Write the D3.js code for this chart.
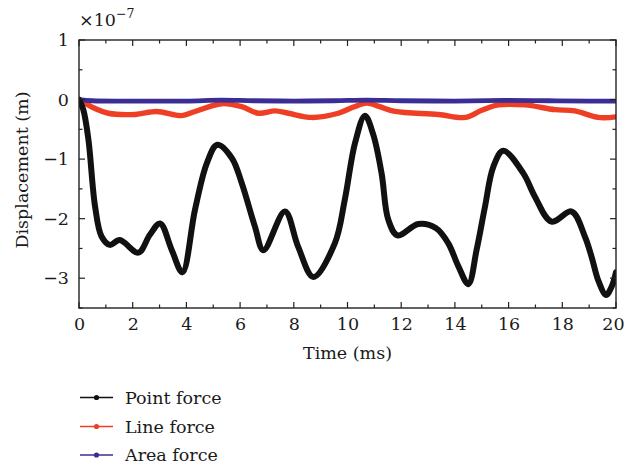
<!DOCTYPE html>
<html>
<head>
<meta charset="utf-8">
<script src="https://cdn.jsdelivr.net/npm/d3@7"></script>
<style>
  html, body { margin: 0; padding: 0; background: #fff; }
  svg { display: block; }
  text { font-family: "DejaVu Serif", "Liberation Serif", serif; fill: #1a1a1a; }
</style>
</head>
<body>
<svg id="chart" width="626" height="464"></svg>
<script>
// Time samples (ms) and displacement values (×1e-7 m) for each load case
const pointT = [0, 0.16, 0.35, 0.6, 0.84, 1.15, 1.52, 2.21, 2.64, 3.02, 3.45, 3.85, 4.32, 4.76, 5.15, 5.69, 6.06, 6.55, 6.87, 7.67, 8.16, 8.73, 9.53, 9.9, 10.28, 10.65, 10.96, 11.27, 11.52, 11.86, 12.64, 13.3, 13.75, 14.13, 14.5, 14.81, 15.12, 15.43, 15.8, 16.55, 16.98, 17.6, 18.35, 18.84, 19.09, 19.35, 19.63, 19.84, 20];
const pointV = [0, -0.17, -0.67, -1.8, -2.3, -2.44, -2.36, -2.57, -2.27, -2.08, -2.52, -2.9, -1.85, -1.07, -0.76, -0.98, -1.4, -2.13, -2.53, -1.88, -2.47, -2.98, -2.41, -1.68, -0.73, -0.27, -0.59, -1.24, -2.02, -2.28, -2.09, -2.16, -2.41, -2.8, -3.1, -2.52, -1.8, -1.13, -0.86, -1.24, -1.63, -2.05, -1.88, -2.3, -2.64, -3.05, -3.28, -3.14, -2.9];

const lineT = [0, 0.6, 1.09, 2.09, 2.89, 3.82, 4.32, 5.31, 6.06, 6.68, 7.3, 7.8, 8.67, 9.66, 10.2, 10.71, 11.2, 11.77, 13.38, 14.38, 15.0, 15.62, 16.61, 17.73, 18.47, 19.34, 20];
const lineV = [0, -0.15, -0.23, -0.25, -0.2, -0.27, -0.2, -0.07, -0.12, -0.23, -0.19, -0.23, -0.3, -0.23, -0.13, -0.06, -0.12, -0.2, -0.25, -0.3, -0.18, -0.09, -0.09, -0.17, -0.19, -0.3, -0.29];

const areaT = [0, 0.5, 2, 4, 5.3, 6.5, 8, 9.5, 10.7, 12, 14, 15.8, 17.5, 19, 20];
const areaV = [0, -0.02, -0.025, -0.025, -0.01, -0.02, -0.025, -0.02, -0.01, -0.02, -0.025, -0.015, -0.02, -0.025, -0.025];

const seriesNames = ["Point force", "Line force", "Area force"];
const seriesColors = ["#111111", "#ee3f24", "#3a2e96"];

const xTicks = [0, 2, 4, 6, 8, 10, 12, 14, 16, 18, 20];
const yTicks = [1, 0, -1, -2, -3];

const svg = d3.select("#chart");
const mLeft = 79, mRight = 616, mTop = 40, mBottom = 308;
const fontSize = 17.5;

const x = d3.scaleLinear().domain([0, 20]).range([mLeft, mRight]);
const y = d3.scaleLinear().domain([-3.5, 1]).range([mBottom, mTop]);

const series = [
  { t: pointT, v: pointV, w: 6 },
  { t: lineT, v: lineV, w: 5.4 },
  { t: areaT, v: areaV, w: 4.8 }
];

const line = d3.line()
  .x(d => x(d[0]))
  .y(d => y(d[1]))
  .curve(d3.curveCatmullRom.alpha(0.5));

svg.append("clipPath").attr("id", "plotclip")
  .append("rect").attr("x", mLeft).attr("y", mTop - 4)
  .attr("width", mRight - mLeft).attr("height", mBottom - mTop + 4);

const plot = svg.append("g").attr("clip-path", "url(#plotclip)");

// Line force and area force sit under the point-force curve
[1, 2, 0].forEach(i => {
  const s = series[i];
  plot.append("path")
    .datum(s.t.map((t, j) => [t, s.v[j]]))
    .attr("fill", "none")
    .attr("stroke", seriesColors[i])
    .attr("stroke-width", s.w)
    .attr("stroke-linejoin", "round")
    .attr("stroke-linecap", "round")
    .attr("d", line);
});

// Frame and axes
const axisColor = "#222";
const gx = svg.append("g").attr("transform", `translate(0,${mBottom})`)
  .call(d3.axisBottom(x).tickValues(xTicks).tickSize(0).tickPadding(10).tickFormat(d3.format("d")));
const gy = svg.append("g").attr("transform", `translate(${mLeft},0)`)
  .call(d3.axisLeft(y).tickValues(yTicks).tickSize(0).tickPadding(10)
    .tickFormat(d => d < 0 ? "\u2212" + Math.abs(d) : String(d)));
[gx, gy].forEach(g => {
  g.select(".domain").remove();
  g.selectAll("text").attr("font-family", "DejaVu Serif, serif").attr("font-size", fontSize).attr("fill", "#1a1a1a");
});
// keep the last time label inside the page edge
gx.selectAll(".tick").filter(d => d === 20).select("text").attr("dx", -3);

svg.append("rect").attr("x", mLeft).attr("y", mTop)
  .attr("width", mRight - mLeft).attr("height", mBottom - mTop)
  .attr("fill", "none").attr("stroke", axisColor).attr("stroke-width", 1.4);

// Inward ticks on all four sides
const ticks = svg.append("g").attr("stroke", axisColor).attr("stroke-width", 1.2);
d3.range(0, 21, 1).forEach(t => {
  const len = t % 2 === 0 ? 6 : 3.5;
  ticks.append("line").attr("x1", x(t)).attr("x2", x(t)).attr("y1", mBottom).attr("y2", mBottom - len);
  ticks.append("line").attr("x1", x(t)).attr("x2", x(t)).attr("y1", mTop).attr("y2", mTop + len);
});
d3.range(-3.5, 1.01, 0.5).forEach(v => {
  const len = Number.isInteger(v) ? 6 : 3.5;
  ticks.append("line").attr("x1", mLeft).attr("x2", mLeft + len).attr("y1", y(v)).attr("y2", y(v));
  ticks.append("line").attr("x1", mRight).attr("x2", mRight - len).attr("y1", y(v)).attr("y2", y(v));
});

// Exponent label
const exp = svg.append("text").attr("x", 79).attr("y", 26).attr("font-size", fontSize);
exp.append("tspan").text("\u00d710");
exp.append("tspan").attr("dy", -8).attr("font-size", 12.5).text("\u22127");

// Axis titles
svg.append("text").attr("x", (mLeft + mRight) / 2).attr("y", 359)
  .attr("text-anchor", "middle").attr("font-size", fontSize).text("Time (ms)");
svg.append("text")
  .attr("transform", `translate(28,${(mTop + mBottom) / 2 - 4}) rotate(-90)`)
  .attr("text-anchor", "middle").attr("font-size", fontSize).text("Displacement (m)");

// Legend
const legendY = [397.5, 426.5, 455];
seriesNames.forEach((name, i) => {
  const g = svg.append("g");
  g.append("line").attr("x1", 80).attr("x2", 113).attr("y1", legendY[i]).attr("y2", legendY[i])
    .attr("stroke", seriesColors[i]).attr("stroke-width", 1.3);
  g.append("circle").attr("cx", 96.5).attr("cy", legendY[i]).attr("r", 2.6).attr("fill", seriesColors[i]);
  g.append("text").attr("x", 125).attr("y", legendY[i] + 6).attr("font-size", fontSize).text(name);
});
</script>
</body>
</html>
